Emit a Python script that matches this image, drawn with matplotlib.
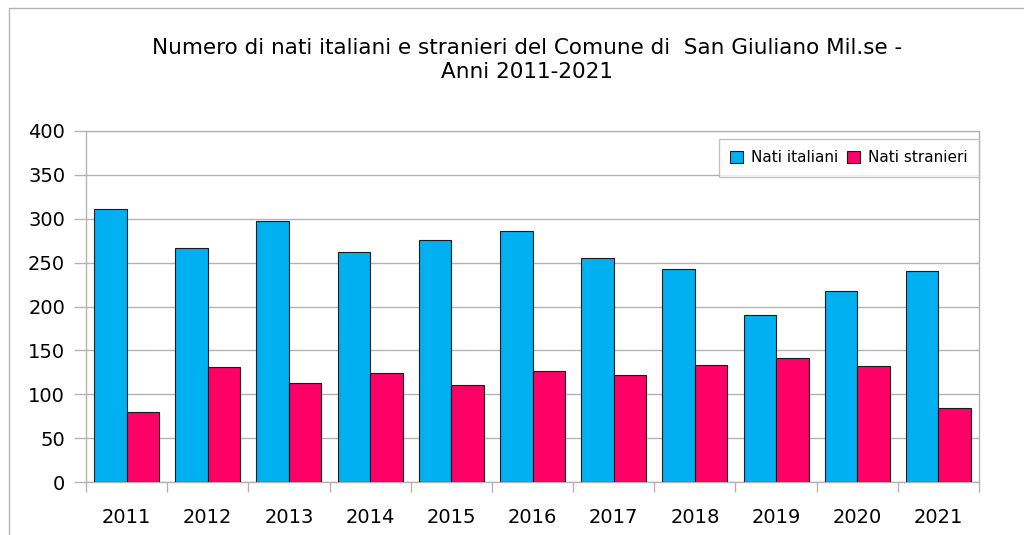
import matplotlib
matplotlib.use("Agg")
import matplotlib.pyplot as plt
import matplotlib.patches as mpatches
import numpy as np

years = ["2011", "2012", "2013", "2014", "2015", "2016", "2017", "2018", "2019", "2020", "2021"]
nati_italiani = [311, 267, 298, 262, 276, 286, 255, 243, 190, 218, 240]
nati_stranieri = [80, 131, 113, 124, 111, 127, 122, 133, 141, 132, 84]
yticks = [0, 50, 100, 150, 200, 250, 300, 350, 400]
title = "Numero di nati italiani e stranieri del Comune di  San Giuliano Mil.se -\nAnni 2011-2021"

plt.rcParams['font.family'] = ['DejaVu Sans']
BLUE = "#00b0f0"
PINK = "#ff0066"
GRID = "#b3b3b3"

fig = plt.figure(figsize=(10.24, 5.35), dpi=100)
ax = fig.add_axes([86/1024, 1-482/535, (979-86)/1024, (482-131)/535])

x = np.arange(len(years))
w = 0.4
ax.bar(x - w/2, nati_italiani, w, color=BLUE, edgecolor="#1a1a1a", linewidth=0.8, label="Nati italiani", zorder=3)
ax.bar(x + w/2, nati_stranieri, w, color=PINK, edgecolor="#1a1a1a", linewidth=0.8, label="Nati stranieri", zorder=3)

ax.set_xlim(-0.5, len(years) - 0.5)
ax.set_ylim(0, 400)
ax.set_yticks(yticks)
ax.set_yticklabels([str(v) for v in yticks], fontsize=14)
ax.set_xticks(x)
ax.set_xticklabels(years, fontsize=14)
ax.set_xticks(np.arange(-0.5, len(years)), minor=True)
ax.tick_params(axis='x', which='major', length=0, pad=19)
ax.tick_params(axis='x', which='minor', length=7.5, color=GRID, width=1)
ax.tick_params(axis='y', length=9, color=GRID, width=1, pad=6)
ax.grid(axis='y', color=GRID, linewidth=1, zorder=0)
for s in ax.spines.values():
    s.set_color(GRID)
    s.set_linewidth(1)

leg = ax.legend(loc="upper right", bbox_to_anchor=(1.0, 0.978), ncol=2, fontsize=11,
                frameon=True, fancybox=False, edgecolor=GRID, handlelength=0.85, handleheight=0.85,
                handletextpad=0.5, columnspacing=0.6, borderpad=0.75, borderaxespad=0.0)
leg.get_frame().set_linewidth(1)

fig.text(527/1024, 1-60/535, title, ha="center", va="center", fontsize=15.5, multialignment="center", linespacing=1.25)

rect = mpatches.Rectangle((8.5/1024, -0.1), 1.1, (535-8.5)/535 + 0.1, transform=fig.transFigure,
                          fill=False, edgecolor=GRID, linewidth=1)
fig.patches.append(rect)

fig.savefig("out.png", dpi=100)
